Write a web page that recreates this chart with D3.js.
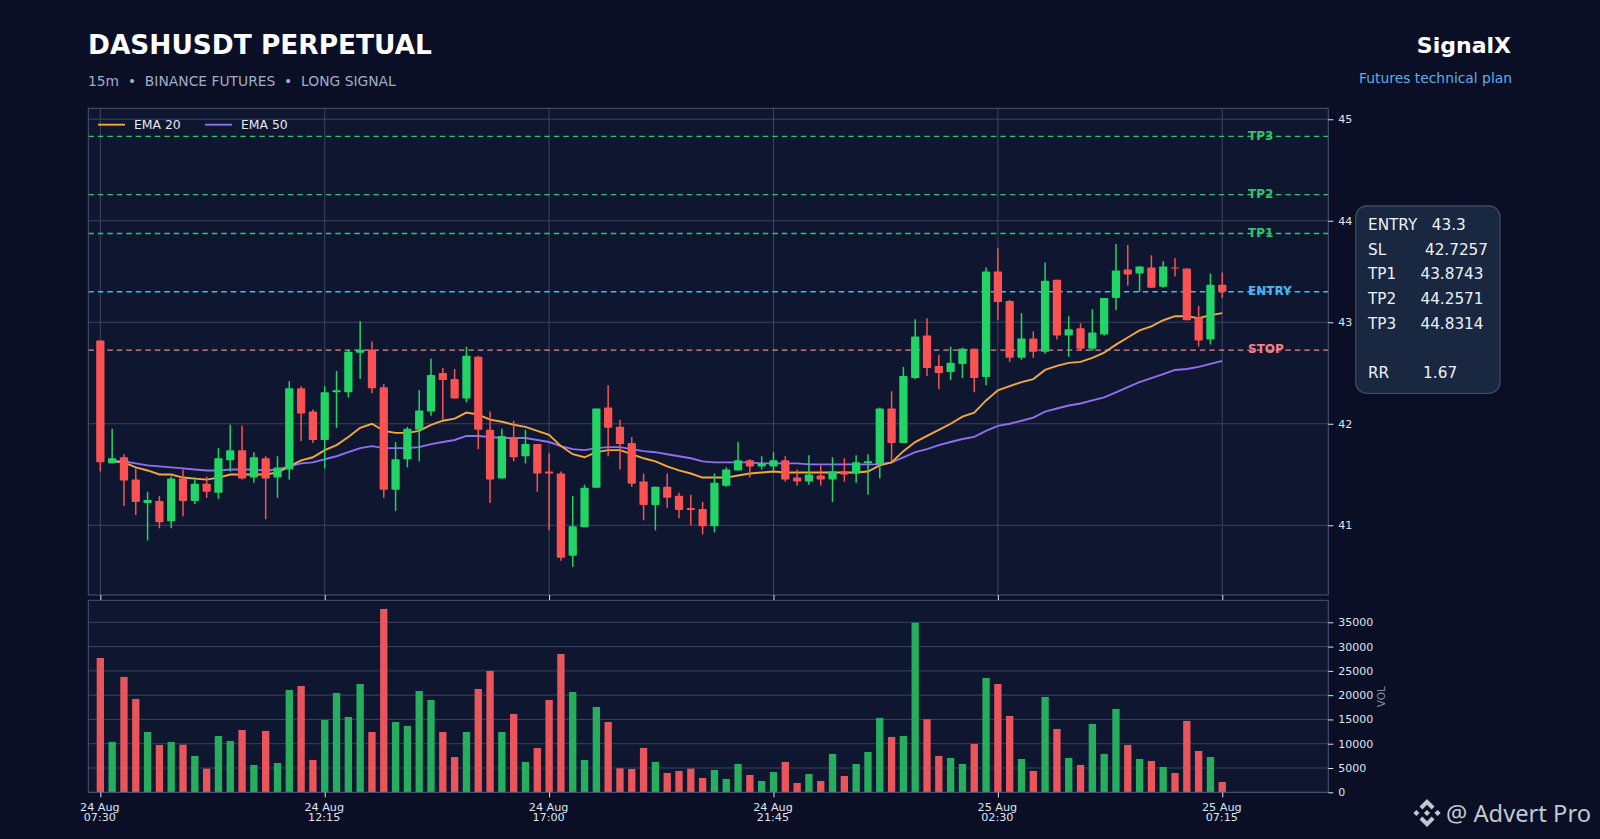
<!DOCTYPE html>
<html>
<head>
<meta charset="utf-8">
<script src="https://cdn.jsdelivr.net/npm/d3@7"></script>
<style>
    html, body { margin: 0; padding: 0; background: #0a0f26; overflow: hidden; }
    text { font-family: "DejaVu Sans", sans-serif; }
</style>
</head>
<body>
<div id="viz"></div>
<script>
const opens = [42.82,41.61,41.67,41.45,41.22,41.24,41.04,41.46,41.24,41.41,41.32,41.64,41.74,41.47,41.66,41.47,41.55,42.35,42.12,41.84,
    42.31,42.31,42.70,42.73,42.36,41.35,41.65,41.94,42.12,42.50,42.44,42.25,42.66,41.94,41.46,41.87,41.68,41.80,41.53,41.51,
    40.70,40.98,41.37,42.16,41.97,41.81,41.43,41.20,41.38,41.29,41.17,41.16,40.99,41.39,41.54,41.64,41.58,41.58,41.64,41.47,
    41.43,41.49,41.45,41.53,41.51,41.61,41.60,42.15,41.81,42.45,42.87,42.57,42.51,42.59,42.74,42.46,43.50,43.21,42.65,42.84,
    42.71,43.42,42.87,42.94,42.74,42.88,43.24,43.52,43.48,43.54,43.35,43.54,43.53,43.05,42.83,43.37];
const closes = [41.62,41.66,41.44,41.23,41.25,41.03,41.46,41.24,41.41,41.33,41.66,41.74,41.46,41.67,41.46,41.57,42.35,42.10,41.84,42.31,
    42.33,42.71,42.73,42.35,41.35,41.65,41.95,42.13,42.48,42.43,42.25,42.67,41.94,41.45,41.88,41.67,41.80,41.51,41.51,40.68,
    40.99,41.37,42.15,41.96,41.80,41.41,41.20,41.38,41.27,41.15,41.15,40.99,41.42,41.55,41.64,41.58,41.61,41.64,41.45,41.43,
    41.50,41.45,41.53,41.50,41.62,41.63,42.15,41.81,42.47,42.86,42.55,42.50,42.60,42.74,42.45,43.50,43.20,42.65,42.84,42.71,
    43.41,42.87,42.93,42.74,42.90,43.24,43.51,43.47,43.55,43.34,43.55,43.53,43.02,42.82,43.37,43.30];
const highs = [42.82,41.95,41.70,41.56,41.33,41.29,41.48,41.55,41.47,41.48,41.76,41.99,41.98,41.72,41.68,41.68,42.42,42.37,42.14,42.37,
    42.52,42.73,43.01,42.81,42.39,41.82,41.97,42.33,42.64,42.55,42.54,42.76,42.67,42.12,41.95,42.03,41.94,41.80,41.71,41.53,
    41.29,41.40,42.15,42.38,42.04,41.87,41.51,41.38,41.51,41.32,41.30,41.23,41.51,41.57,41.82,41.65,41.68,41.72,41.68,41.55,
    41.69,41.59,41.67,41.66,41.69,41.70,42.16,42.32,42.56,43.03,43.04,42.68,42.76,42.75,42.74,43.54,43.73,43.22,43.09,42.91,
    43.59,43.42,43.06,42.99,43.13,43.24,43.77,43.76,43.55,43.66,43.60,43.63,43.53,43.16,43.48,43.49];
const lows = [41.53,41.61,41.19,41.10,40.85,40.97,40.97,41.09,41.21,41.27,41.26,41.53,41.45,41.42,41.06,41.27,41.45,41.83,41.81,41.56,
    41.96,42.26,42.44,42.30,41.27,41.14,41.57,41.63,42.08,42.04,42.25,42.21,41.75,41.22,41.46,41.63,41.61,41.33,40.95,40.65,
    40.59,40.98,41.37,41.68,41.55,41.38,41.05,40.95,41.17,41.07,41.00,40.91,40.93,41.38,41.54,41.47,41.55,41.54,41.43,41.39,
    41.40,41.39,41.23,41.43,41.42,41.30,41.46,41.63,41.81,42.44,42.47,42.34,42.43,42.45,42.31,42.38,43.02,42.61,42.63,42.65,
    42.69,42.83,42.66,42.72,42.72,42.87,43.12,43.36,43.30,43.34,43.34,43.45,43.02,42.76,42.78,43.24];
const volumes = [27660,10360,23750,19220,12420,9750,10360,9810,7480,4870,11600,10570,12830,5630,12630,6040,21070,21890,6660,14890,
    20450,15510,22300,12420,37750,14480,13660,20860,19010,12420,7270,12420,21280,24980,12420,16130,6250,9130,19010,28480,
    20660,6660,17570,14480,4940,4800,9130,6250,3980,4390,4870,2950,4600,2750,5830,3570,2330,4190,6250,1920,
    3770,2330,7890,3360,5830,8300,15300,11390,11600,34930,15030,7480,7070,5830,9950,23540,22300,15720,6860,4390,
    19630,13040,7070,5630,14070,7890,17160,9750,6860,6450,5220,3980,14690,8510,7270,2130];
const ema20 = [null,41.63,41.62,41.57,41.54,41.50,41.50,41.47,41.46,41.45,41.47,41.50,41.50,41.50,41.50,41.52,41.58,41.64,41.67,41.74,
    41.79,41.87,41.96,42.00,41.93,41.91,41.91,41.93,41.99,42.03,42.05,42.11,42.09,42.04,42.02,41.99,41.97,41.93,41.89,41.78,
    41.70,41.67,41.72,41.74,41.74,41.70,41.66,41.63,41.58,41.54,41.51,41.47,41.47,41.47,41.49,41.51,41.52,41.53,41.52,41.52,
    41.52,41.52,41.52,41.52,41.52,41.53,41.59,41.62,41.73,41.82,41.88,41.94,42.00,42.07,42.11,42.23,42.33,42.37,42.41,42.44,
    42.53,42.57,42.60,42.61,42.65,42.70,42.78,42.85,42.92,42.96,43.02,43.06,43.06,43.04,43.07,43.09];
const ema50 = [null,41.63,41.63,41.61,41.59,41.58,41.57,41.56,41.55,41.54,41.54,41.55,41.55,41.55,41.54,41.55,41.58,41.61,41.62,41.65,
    41.68,41.72,41.76,41.78,41.76,41.76,41.76,41.77,41.80,41.82,41.84,41.88,41.88,41.87,41.86,41.86,41.86,41.84,41.82,41.78,
    41.75,41.74,41.76,41.77,41.77,41.75,41.73,41.72,41.70,41.68,41.66,41.63,41.62,41.62,41.62,41.62,41.61,41.61,41.61,41.61,
    41.60,41.60,41.60,41.60,41.60,41.60,41.60,41.62,41.67,41.72,41.75,41.79,41.82,41.85,41.87,41.93,41.98,42.00,42.03,42.06,
    42.12,42.15,42.18,42.20,42.23,42.26,42.31,42.36,42.41,42.45,42.49,42.53,42.54,42.56,42.59,42.62];

const xTickIndex = [0, 19, 38, 57, 76, 95];
const xTickDates = ["24 Aug", "24 Aug", "24 Aug", "24 Aug", "25 Aug", "25 Aug"];
const xTickTimes = ["07:30", "12:15", "17:00", "21:45", "02:30", "07:15"];
const priceTicks = [41, 42, 43, 44, 45];
const volTicks = [0, 5000, 10000, 15000, 20000, 25000, 30000, 35000];

const levelNames = ["TP3", "TP2", "TP1", "ENTRY", "STOP"];
const levelPrices = [44.8314, 44.2571, 43.8743, 43.3, 42.7257];
const levelColors = ["#2fc36f", "#2fc36f", "#2fc36f", "#4db4f2", "#f6808f"];

const planRows = ["ENTRY   43.3", "SL        42.7257", "TP1     43.8743", "TP2     44.2571", "TP3     44.8314", "", "RR       1.67"];

const width = 1600;
const height = 839;

const left = 88.3, right = 1328.3;
const priceTop = 108.3, priceBottom = 595;
const volTop = 600.3, volBottom = 792.3;

const green = "#22d366";
const red = "#fa5252";
const gridCol = "#3a4460";
const spineCol = "#4b5675";
const tickTextCol = "#dfe4ef";

const svg = d3.select("#viz").append("svg")
    .attr("width", width)
    .attr("height", height)
    .style("display", "block")
    .style("background", "#0a0f26");

const x = d3.scaleLinear().domain([-1.02, 103.98]).range([left, right]);
const y = d3.scaleLinear().domain([40.313, 45.108]).range([priceBottom, priceTop]);
const yVol = d3.scaleLinear().domain([0, 39530]).range([volBottom, volTop]);

const step = x(1) - x(0);
const isUp = i => closes[i] >= opens[i];

// panels
[[priceTop, priceBottom], [volTop, volBottom]].forEach(p => {
    svg.append("rect")
        .attr("x", left).attr("y", p[0])
        .attr("width", right - left).attr("height", p[1] - p[0])
        .attr("fill", "#0f1730");
});

// grid
const grid = svg.append("g").attr("stroke", gridCol).attr("stroke-width", 1);
grid.selectAll(".gx").data(xTickIndex).enter().append("line")
    .attr("x1", d => x(d)).attr("x2", d => x(d))
    .attr("y1", priceTop).attr("y2", priceBottom);
grid.selectAll(".gy").data(priceTicks).enter().append("line")
    .attr("x1", left).attr("x2", right)
    .attr("y1", d => y(d)).attr("y2", d => y(d));
grid.selectAll(".gv").data(volTicks).enter().append("line")
    .attr("x1", left).attr("x2", right)
    .attr("y1", d => yVol(d)).attr("y2", d => yVol(d));

// level labels go under the dashed lines
svg.selectAll(".lvl-label").data(levelNames).enter().append("text")
    .attr("x", 1248)
    .attr("y", (d, i) => y(levelPrices[i]) + 3.2)
    .attr("font-size", 12)
    .attr("font-weight", "bold")
    .attr("fill", (d, i) => levelColors[i])
    .text(d => d);

svg.selectAll(".lvl").data(levelPrices).enter().append("line")
    .attr("x1", left).attr("x2", right)
    .attr("y1", d => y(d)).attr("y2", d => y(d))
    .attr("stroke", (d, i) => levelColors[i])
    .attr("stroke-width", 1.4)
    .attr("stroke-dasharray", "5.5,4");

// ema lines
const emaLine = d3.line()
    .defined(d => d !== null)
    .x((d, i) => x(i))
    .y(d => y(d));

svg.append("path").attr("d", emaLine(ema50))
    .attr("fill", "none").attr("stroke", "#8f6ff2").attr("stroke-width", 1.9);
svg.append("path").attr("d", emaLine(ema20))
    .attr("fill", "none").attr("stroke", "#f3a93c").attr("stroke-width", 1.9);

// candles
const candles = svg.append("g").selectAll("g").data(opens).enter().append("g");
candles.append("line")
    .attr("x1", (d, i) => x(i)).attr("x2", (d, i) => x(i))
    .attr("y1", (d, i) => y(highs[i])).attr("y2", (d, i) => y(lows[i]))
    .attr("stroke", (d, i) => isUp(i) ? green : red)
    .attr("stroke-width", 1.5);
candles.append("rect")
    .attr("x", (d, i) => x(i) - step * 0.35)
    .attr("width", step * 0.7)
    .attr("y", (d, i) => y(Math.max(opens[i], closes[i])))
    .attr("height", (d, i) => Math.abs(y(opens[i]) - y(closes[i])))
    .attr("rx", 0.8)
    .attr("fill", (d, i) => isUp(i) ? green : red);

// volume
svg.append("g").selectAll("rect").data(volumes).enter().append("rect")
    .attr("x", (d, i) => x(i) - step * 0.31)
    .attr("width", step * 0.62)
    .attr("y", d => yVol(d))
    .attr("height", d => volBottom - yVol(d))
    .attr("fill", (d, i) => isUp(i) ? "#26ad5e" : "#e9555a");

// spines
[[priceTop, priceBottom], [volTop, volBottom]].forEach(p => {
    svg.append("rect")
        .attr("x", left).attr("y", p[0])
        .attr("width", right - left).attr("height", p[1] - p[0])
        .attr("fill", "none")
        .attr("stroke", spineCol).attr("stroke-width", 1);
});

// axes
function styleAxis(g) {
    g.select(".domain").remove();
    g.selectAll(".tick line").attr("stroke", tickTextCol).attr("stroke-width", 1);
    g.selectAll(".tick text")
        .attr("fill", tickTextCol)
        .attr("font-size", 11)
        .style("font-family", '"DejaVu Sans", sans-serif');
}

svg.append("g")
    .attr("transform", `translate(${right},0)`)
    .call(d3.axisRight(y).tickValues(priceTicks).tickSize(5).tickPadding(5).tickFormat(d3.format("d")))
    .call(styleAxis);

svg.append("g")
    .attr("transform", `translate(${right},0)`)
    .call(d3.axisRight(yVol).tickValues(volTicks).tickSize(5).tickPadding(5).tickFormat(d3.format("d")))
    .call(styleAxis);

svg.append("g")
    .attr("transform", `translate(0,${priceBottom})`)
    .call(d3.axisBottom(x).tickValues(xTickIndex).tickSize(5).tickFormat(""))
    .call(styleAxis);

const xAxisVol = svg.append("g")
    .attr("transform", `translate(0,${volBottom})`)
    .call(d3.axisBottom(x).tickValues(xTickIndex).tickSize(5).tickFormat(""))
    .call(styleAxis);

xAxisVol.selectAll(".tick text").remove();
xAxisVol.selectAll(".tick").append("text")
    .attr("fill", tickTextCol).attr("font-size", 11.2).attr("text-anchor", "middle")
    .style("font-family", '"DejaVu Sans", sans-serif')
    .attr("x", -1)
    .attr("y", 18.4)
    .text((d, i) => xTickDates[i]);
xAxisVol.selectAll(".tick").append("text")
    .attr("fill", tickTextCol).attr("font-size", 11.2).attr("text-anchor", "middle")
    .style("font-family", '"DejaVu Sans", sans-serif')
    .attr("x", -1)
    .attr("y", 29)
    .text((d, i) => xTickTimes[i]);

svg.append("text")
    .attr("transform", `translate(1385,${yVol(19700)}) rotate(-90)`)
    .attr("text-anchor", "middle")
    .attr("font-size", 10.5)
    .attr("fill", "#858da6")
    .text("VOL");

// titles
svg.append("text").attr("x", 88).attr("y", 54)
    .attr("font-size", 26.4).attr("font-weight", "bold").attr("fill", "#ffffff")
    .text("DASHUSDT PERPETUAL");
svg.append("text").attr("x", 88).attr("y", 86)
    .attr("font-size", 13.85).attr("fill", "#a3adc4")
    .style("white-space", "pre")
    .text("15m  •  BINANCE FUTURES  •  LONG SIGNAL");
svg.append("text").attr("x", 1511).attr("y", 53).attr("text-anchor", "end")
    .attr("font-size", 22).attr("font-weight", "bold").attr("fill", "#ffffff")
    .text("SignalX");
svg.append("text").attr("x", 1512).attr("y", 83).attr("text-anchor", "end")
    .attr("font-size", 13.85).attr("fill", "#60ade8")
    .text("Futures technical plan");

// legend
const legendNames = ["EMA 20", "EMA 50"];
const legendColors = ["#f3a93c", "#8f6ff2"];
const legend = svg.selectAll(".leg").data(legendNames).enter().append("g")
    .attr("transform", (d, i) => `translate(${98 + i * 107},124.7)`);
legend.append("line").attr("x1", 0).attr("x2", 27)
    .attr("stroke", (d, i) => legendColors[i]).attr("stroke-width", 1.9);
legend.append("text").attr("x", 36).attr("y", 4.4)
    .attr("font-size", 12.4).attr("fill", "#e3e7f1")
    .text(d => d);

// plan box
svg.append("rect")
    .attr("x", 1355.7).attr("y", 206)
    .attr("width", 144.3).attr("height", 187.3)
    .attr("rx", 11).attr("ry", 11)
    .attr("fill", "#1a2741")
    .attr("stroke", "#3b4967").attr("stroke-width", 1.3);
svg.selectAll(".plan").data(planRows).enter().append("text")
    .attr("x", 1368)
    .attr("y", (d, i) => 230.3 + i * 24.55)
    .attr("font-size", 15.25)
    .attr("fill", "#edf1f8")
    .style("white-space", "pre")
    .text(d => d);

// watermark
const mark = svg.append("g").attr("transform", "translate(1427,813)").attr("fill", "#c3c7d0");
const markShapes = [
    "M0,-14 L7.5,-6.5 L4.6,-3.6 L0,-8.2 L-4.6,-3.6 L-7.5,-6.5 Z",
    "M0,14 L7.5,6.5 L4.6,3.6 L0,8.2 L-4.6,3.6 L-7.5,6.5 Z",
    "M0,-3.1 L3.1,0 L0,3.1 L-3.1,0 Z",
    "M-10.6,-3.1 L-7.5,0 L-10.6,3.1 L-13.7,0 Z",
    "M10.6,-3.1 L13.7,0 L10.6,3.1 L7.5,0 Z"
];
mark.selectAll("path").data(markShapes).enter().append("path").attr("d", d => d);
svg.append("text").attr("x", 1446).attr("y", 822)
    .attr("font-size", 23.7)
    .style("font-family", '"Noto Sans", sans-serif')
    .attr("fill", "#c3c7d0")
    .text("@ Advert Pro");
</script>
</body>
</html>
